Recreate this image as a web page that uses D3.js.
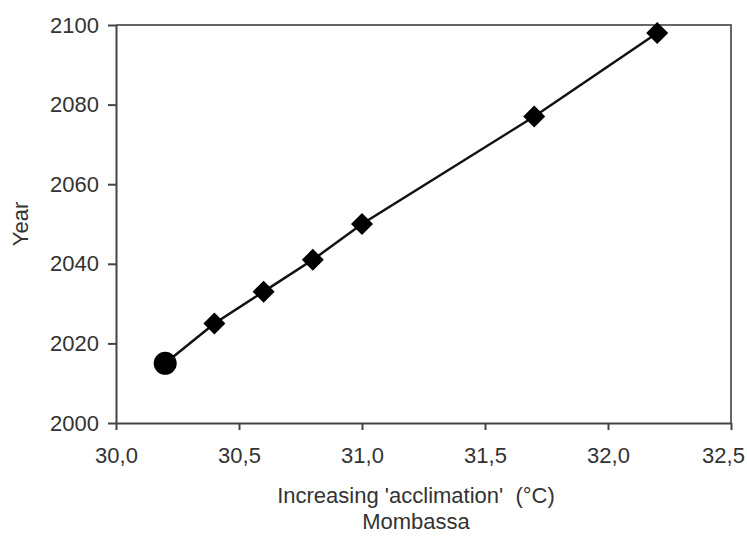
<!DOCTYPE html>
<html lang="en">
    <head>
        <meta charset="utf-8">
        <title>Mombassa acclimation</title>
        <script type="text/javascript" src="https://cdn.jsdelivr.net/npm/d3@7"></script>
        <style>
            body { margin: 0; background: #fff; }
            text { font-family: "Liberation Sans", Arial, sans-serif; fill: #333; }
        </style>
    </head>
    <body>
        <script type="text/javascript">
            //Width and height
            var w = 747;
            var h = 536;
            var margin = { left: 116, top: 25, right: 16, bottom: 113 };

            // data
            var temps = [30.2, 30.4, 30.6, 30.8, 31.0, 31.7, 32.2];
            var years = [2015, 2025, 2033, 2041, 2050, 2077, 2098];
            var markers = ["circle", "diamond", "diamond", "diamond", "diamond", "diamond", "diamond"];
            var xTicks = [30.0, 30.5, 31.0, 31.5, 32.0, 32.5];
            var yTicks = [2000, 2020, 2040, 2060, 2080, 2100];

            var svg = d3.select("body").append("svg").attr("width", w).attr("height", h);

            var x = d3.scaleLinear().domain([30, 32.5]).range([margin.left, w - margin.right]);
            var y = d3.scaleLinear().domain([2000, 2100]).range([h - margin.bottom, margin.top]);

            var axisColor = "#444";

            // plot frame (top and right)
            svg.append("path")
                .attr("d", "M" + x(30) + "," + y(2100) + "H" + x(32.5) + "V" + y(2000))
                .attr("fill", "none")
                .attr("stroke", "#666")
                .attr("stroke-width", 2);

            var xAxis = svg.append("g")
                .attr("transform", "translate(0," + y(2000) + ")")
                .call(d3.axisBottom(x).tickValues(xTicks).tickSize(7).tickSizeOuter(0)
                    .tickFormat(function(d) { return d3.format(".1f")(d).replace(".", ","); }));
            xAxis.select(".domain").attr("stroke", axisColor).attr("stroke-width", 2);
            xAxis.selectAll(".tick line").attr("stroke", axisColor).attr("stroke-width", 2);
            xAxis.selectAll(".tick text")
                .attr("y", 24)
                .attr("dy", "0.71em")
                .attr("font-size", "22px")
                .attr("fill", "#333");
            // last label sits against the page edge, as in the original
            xAxis.selectAll(".tick text")
                .filter(function(d) { return d == 32.5; })
                .attr("x", -8);

            var yAxis = svg.append("g")
                .attr("transform", "translate(" + x(30) + ",0)")
                .call(d3.axisLeft(y).tickValues(yTicks).tickSize(8).tickSizeOuter(0)
                    .tickFormat(d3.format("d")));
            yAxis.select(".domain").attr("stroke", axisColor).attr("stroke-width", 2);
            yAxis.selectAll(".tick line").attr("stroke", axisColor).attr("stroke-width", 2);
            yAxis.selectAll(".tick text")
                .attr("x", -17)
                .attr("font-size", "22px")
                .attr("fill", "#333");

            var points = temps.map(function(t, i) { return { t: t, yr: years[i], m: markers[i] }; });

            // the line through the points
            var line = d3.line()
                .x(function(d) { return x(d.t); })
                .y(function(d) { return y(d.yr); });
            svg.append("path")
                .datum(points)
                .attr("d", line)
                .attr("fill", "none")
                .attr("stroke", "#111")
                .attr("stroke-width", 2.5);

            svg.selectAll("path.marker")
                .data(points)
                .enter()
                .append("path")
                .attr("class", "marker")
                .attr("transform", function(d) {
                    return "translate(" + x(d.t) + "," + y(d.yr) + ")";
                })
                .attr("d", function(d) {
                    if (d.m == "circle") {
                        return d3.symbol().type(d3.symbolCircle).size(Math.PI * 11.5 * 11.5)();
                    }
                    return "M0,-11L11,0L0,11L-11,0Z";
                })
                .attr("fill", "#000");

            // axis titles
            svg.append("text")
                .attr("x", 416)
                .attr("y", 503)
                .attr("text-anchor", "middle")
                .attr("font-size", "22px")
                .style("white-space", "pre")
                .text("Increasing 'acclimation'  (°C)");
            svg.append("text")
                .attr("x", 416)
                .attr("y", 529)
                .attr("text-anchor", "middle")
                .attr("font-size", "22px")
                .text("Mombassa");
            svg.append("text")
                .attr("transform", "translate(28," + ((y(2000) + y(2100)) / 2) + ") rotate(-90)")
                .attr("text-anchor", "middle")
                .attr("font-size", "22px")
                .text("Year");
        </script>
    </body>
</html>
